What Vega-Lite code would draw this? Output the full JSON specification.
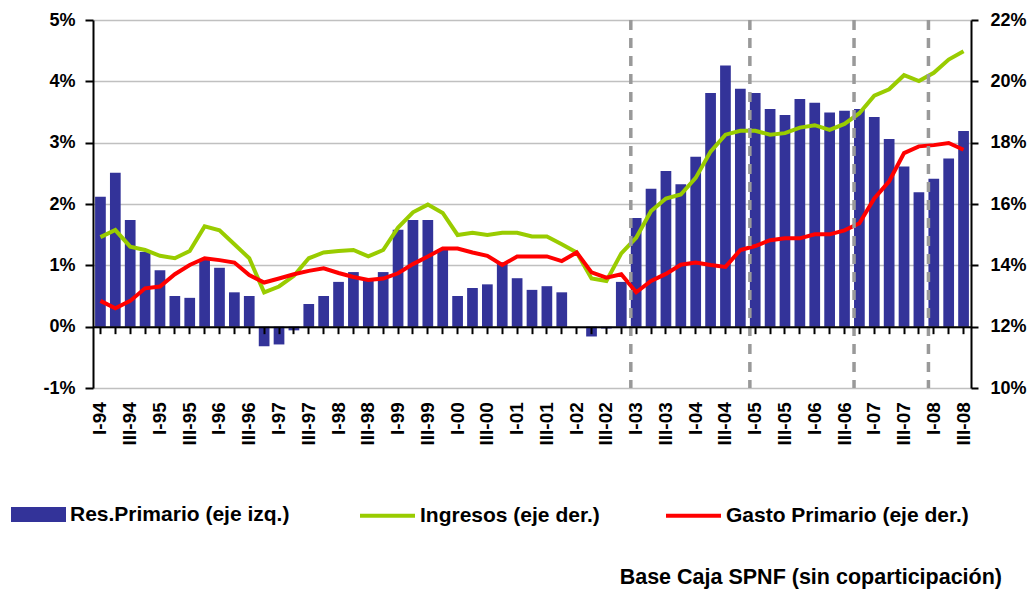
{
  "$schema": "https://vega.github.io/schema/vega-lite/v6.json",
  "width": 878,
  "height": 368,
  "autosize": "none",
  "padding": {"left": 93, "top": 20, "right": 56, "bottom": 204},
  "background": "white",
  "config": {
    "view": {"stroke": null},
    "font": "Liberation Sans",
    "axis": {"labelFont": "Liberation Sans", "labelFontWeight": "bold", "labelColor": "#000000", "domainColor": "#000000", "tickColor": "#000000", "domainWidth": 2, "tickWidth": 2},
    "legend": {"labelFont": "Liberation Sans", "labelFontWeight": "bold", "labelColor": "#000000", "labelFontSize": 21, "labelLimit": 500, "padding": 0}
  },
  "title": {"text": "Base Caja SPNF (sin coparticipación)", "orient": "bottom", "anchor": "end", "fontSize": 21.5, "fontWeight": "bold", "font": "Liberation Sans", "color": "#000000", "dx": -24, "dy": 37},
  "data": {"values": [
    {"q": "I-94", "res": 2.12, "ing": 14.92, "gas": 12.84},
    {"q": "II-94", "res": 2.51, "ing": 15.15, "gas": 12.60},
    {"q": "III-94", "res": 1.74, "ing": 14.61, "gas": 12.84},
    {"q": "IV-94", "res": 1.22, "ing": 14.50, "gas": 13.25},
    {"q": "I-95", "res": 0.92, "ing": 14.31, "gas": 13.31},
    {"q": "II-95", "res": 0.50, "ing": 14.23, "gas": 13.71},
    {"q": "III-95", "res": 0.47, "ing": 14.47, "gas": 14.01},
    {"q": "IV-95", "res": 1.10, "ing": 15.27, "gas": 14.23},
    {"q": "I-96", "res": 0.96, "ing": 15.14, "gas": 14.17},
    {"q": "II-96", "res": 0.56, "ing": 14.69, "gas": 14.09},
    {"q": "III-96", "res": 0.50, "ing": 14.23, "gas": 13.68},
    {"q": "IV-96", "res": -0.32, "ing": 13.12, "gas": 13.44},
    {"q": "I-97", "res": -0.29, "ing": 13.31, "gas": 13.57},
    {"q": "II-97", "res": -0.06, "ing": 13.66, "gas": 13.71},
    {"q": "III-97", "res": 0.37, "ing": 14.23, "gas": 13.82},
    {"q": "IV-97", "res": 0.50, "ing": 14.42, "gas": 13.90},
    {"q": "I-98", "res": 0.73, "ing": 14.47, "gas": 13.75},
    {"q": "II-98", "res": 0.89, "ing": 14.50, "gas": 13.62},
    {"q": "III-98", "res": 0.75, "ing": 14.29, "gas": 13.52},
    {"q": "IV-98", "res": 0.89, "ing": 14.50, "gas": 13.57},
    {"q": "I-99", "res": 1.58, "ing": 15.23, "gas": 13.74},
    {"q": "II-99", "res": 1.74, "ing": 15.73, "gas": 14.04},
    {"q": "III-99", "res": 1.74, "ing": 15.98, "gas": 14.29},
    {"q": "IV-99", "res": 1.26, "ing": 15.71, "gas": 14.55},
    {"q": "I-00", "res": 0.50, "ing": 14.99, "gas": 14.55},
    {"q": "II-00", "res": 0.63, "ing": 15.06, "gas": 14.42},
    {"q": "III-00", "res": 0.69, "ing": 14.99, "gas": 14.31},
    {"q": "IV-00", "res": 1.05, "ing": 15.06, "gas": 14.01},
    {"q": "I-01", "res": 0.79, "ing": 15.06, "gas": 14.29},
    {"q": "II-01", "res": 0.60, "ing": 14.94, "gas": 14.29},
    {"q": "III-01", "res": 0.66, "ing": 14.94, "gas": 14.29},
    {"q": "IV-01", "res": 0.56, "ing": 14.69, "gas": 14.14},
    {"q": "I-02", "res": 0.0, "ing": 14.42, "gas": 14.42},
    {"q": "II-02", "res": -0.16, "ing": 13.57, "gas": 13.77},
    {"q": "III-02", "res": -0.03, "ing": 13.49, "gas": 13.60},
    {"q": "IV-02", "res": 0.73, "ing": 14.39, "gas": 13.71},
    {"q": "I-03", "res": 1.77, "ing": 14.90, "gas": 13.12},
    {"q": "II-03", "res": 2.25, "ing": 15.77, "gas": 13.49},
    {"q": "III-03", "res": 2.54, "ing": 16.18, "gas": 13.72},
    {"q": "IV-03", "res": 2.32, "ing": 16.31, "gas": 14.02},
    {"q": "I-04", "res": 2.77, "ing": 16.85, "gas": 14.09},
    {"q": "II-04", "res": 3.81, "ing": 17.71, "gas": 14.01},
    {"q": "III-04", "res": 4.26, "ing": 18.26, "gas": 13.95},
    {"q": "IV-04", "res": 3.88, "ing": 18.39, "gas": 14.50},
    {"q": "I-05", "res": 3.81, "ing": 18.39, "gas": 14.63},
    {"q": "II-05", "res": 3.55, "ing": 18.26, "gas": 14.82},
    {"q": "III-05", "res": 3.45, "ing": 18.31, "gas": 14.88},
    {"q": "IV-05", "res": 3.71, "ing": 18.49, "gas": 14.88},
    {"q": "I-06", "res": 3.65, "ing": 18.57, "gas": 15.01},
    {"q": "II-06", "res": 3.49, "ing": 18.42, "gas": 15.01},
    {"q": "III-06", "res": 3.52, "ing": 18.61, "gas": 15.14},
    {"q": "IV-06", "res": 3.55, "ing": 18.96, "gas": 15.37},
    {"q": "I-07", "res": 3.42, "ing": 19.53, "gas": 16.18},
    {"q": "II-07", "res": 3.06, "ing": 19.74, "gas": 16.74},
    {"q": "III-07", "res": 2.61, "ing": 20.20, "gas": 17.66},
    {"q": "IV-07", "res": 2.19, "ing": 20.01, "gas": 17.88},
    {"q": "I-08", "res": 2.41, "ing": 20.28, "gas": 17.92},
    {"q": "II-08", "res": 2.74, "ing": 20.71, "gas": 17.99},
    {"q": "III-08", "res": 3.19, "ing": 20.98, "gas": 17.77}
  ]},
  "layer": [
    {
      "mark": {"type": "bar", "color": "#333399"},
      "encoding": {
        "x": {"field": "q", "type": "ordinal",
          "scale": {"domain": ["I-94","II-94","III-94","IV-94","I-95","II-95","III-95","IV-95","I-96","II-96","III-96","IV-96","I-97","II-97","III-97","IV-97","I-98","II-98","III-98","IV-98","I-99","II-99","III-99","IV-99","I-00","II-00","III-00","IV-00","I-01","II-01","III-01","IV-01","I-02","II-02","III-02","IV-02","I-03","II-03","III-03","IV-03","I-04","II-04","III-04","IV-04","I-05","II-05","III-05","IV-05","I-06","II-06","III-06","IV-06","I-07","II-07","III-07","IV-07","I-08","II-08","III-08"], "paddingInner": 0.28, "paddingOuter": 0.14},
          "axis": {"title": null, "orient": "bottom", "offset": -61.33, "tickSize": 7, "labelAngle": -90, "labelPadding": 68, "labelFontSize": 19, "labelOverlap": false, "grid": false, "zindex": 1,
            "labelExpr": "slice(datum.value,0,2)=='I-' || slice(datum.value,0,4)=='III-' ? datum.value : ''"}},
        "y": {"field": "res", "type": "quantitative", "scale": {"domain": [-1, 5], "nice": false},
          "axis": {"title": null, "orient": "left", "values": [-1,0,1,2,3,4,5], "labelExpr": "datum.value + '%'", "grid": true, "gridColor": "#c0c0c0", "gridWidth": 1.5, "tickSize": 8, "labelPadding": 10, "labelFontSize": 18}},
        "fill": {"datum": "Res.Primario (eje izq.)", "type": "nominal", "scale": {"range": ["#333399"]},
          "legend": {"title": null, "orient": "none", "legendX": -83, "legendY": 466, "symbolType": "M-1,-0.27H1V0.27H-1Z", "symbolSize": 3025, "labelOffset": 3}}
      }
    },
    {
      "mark": {"type": "line", "strokeWidth": 4},
      "encoding": {
        "x": {"field": "q", "type": "ordinal"},
        "y": {"field": "ing", "type": "quantitative", "scale": {"domain": [10, 22], "nice": false},
          "axis": {"title": null, "orient": "right", "values": [10,12,14,16,18,20,22], "labelExpr": "datum.value + '%'", "grid": false, "tickSize": 7, "labelPadding": 12, "labelFontSize": 18}},
        "stroke": {"datum": "Ingresos (eje der.)", "type": "nominal",
          "scale": {"domain": ["Ingresos (eje der.)", "Gasto Primario (eje der.)"], "range": ["#99cc00", "#ff0000"]},
          "legend": {"title": null, "orient": "none", "legendX": 265, "legendY": 466, "direction": "horizontal", "symbolType": "stroke", "symbolSize": 3025, "symbolStrokeWidth": 4, "labelOffset": 3, "columnPadding": 58}}
      }
    },
    {
      "mark": {"type": "line", "strokeWidth": 4},
      "encoding": {
        "x": {"field": "q", "type": "ordinal"},
        "y": {"field": "gas", "type": "quantitative", "scale": {"domain": [10, 22], "nice": false}, "axis": null},
        "stroke": {"datum": "Gasto Primario (eje der.)", "type": "nominal"}
      }
    },
    {
      "data": {"values": [{"q": "I-03"}, {"q": "I-05"}, {"q": "IV-06"}, {"q": "I-08"}]},
      "mark": {"type": "rule", "strokeDash": [10, 8], "strokeWidth": 3.5, "color": "#999999"},
      "encoding": {
        "x": {"field": "q", "type": "ordinal", "bandPosition": 0}
      }
    }
  ],
  "resolve": {"scale": {"y": "independent"}}
}
